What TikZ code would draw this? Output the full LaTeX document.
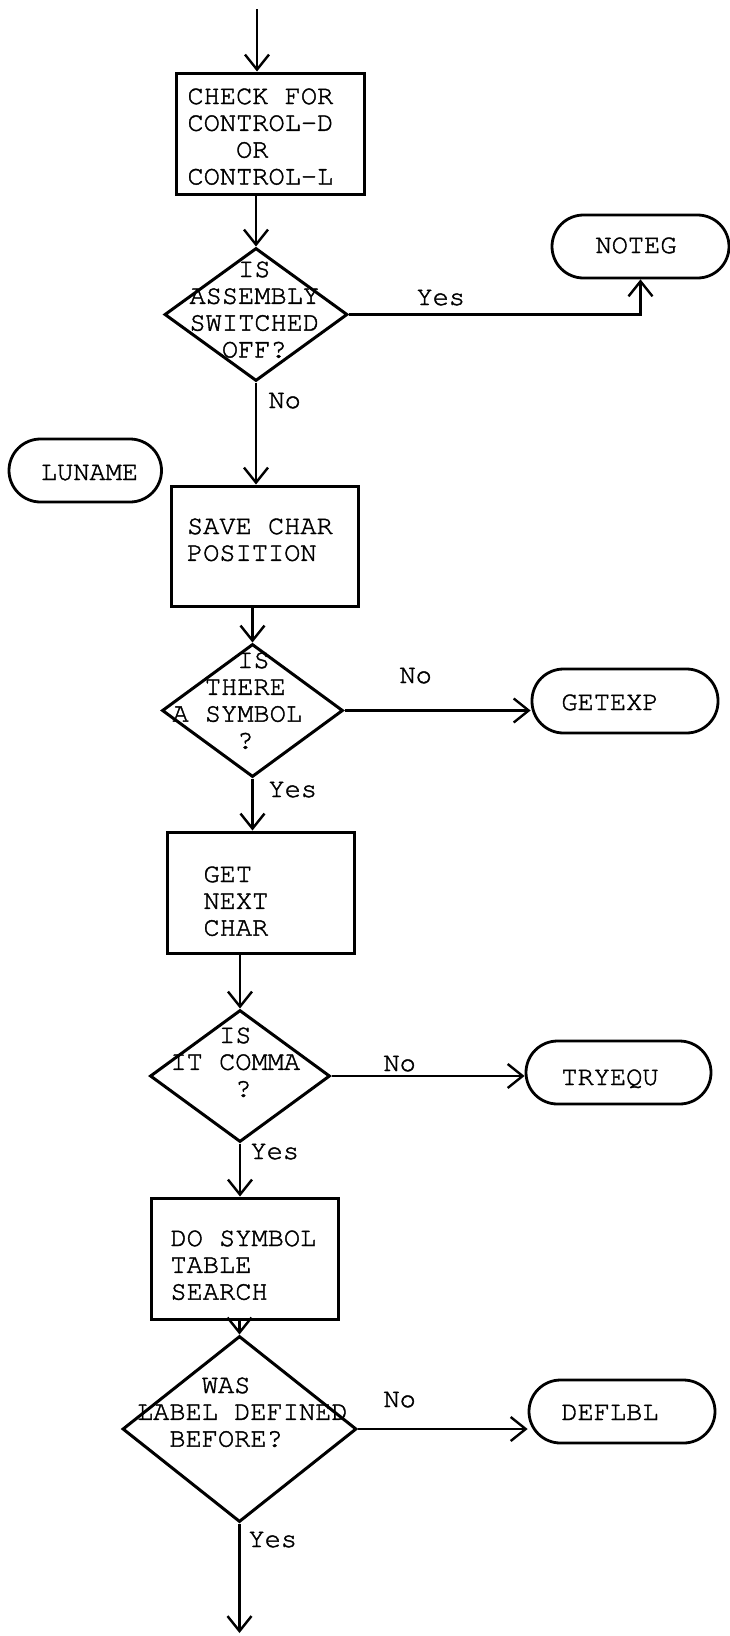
\documentclass[tikz,border=0pt]{standalone}
\usepackage{fontspec}
\setmonofont{texgyrecursor-regular.otf}[FakeBold=1.5]
\usetikzlibrary{arrows.meta,shapes.geometric}
\newlength\chw
\setlength\chw{16.2pt}
\newcommand\ind[1]{\hspace*{#1\chw}}
\begin{document}
\begin{tikzpicture}[x=1pt,y=-1pt,
  arr/.style={line width=2.7pt,-{Straight Barb[length=15pt,width=24pt,line width=2.4pt]}},
  box/.style={draw,line width=3pt,rectangle,inner sep=0pt},
  dia/.style={draw,line width=3pt,diamond,inner sep=0pt},
  term/.style={draw,line width=2.8pt,rectangle,rounded corners=31.5pt,minimum height=63pt,inner sep=0pt},
  txt/.style={font=\fontsize{27pt}{26.8pt}\selectfont\ttfamily,align=left,anchor=base west,inner sep=0pt,outer sep=0pt},
  ttxt/.style={font=\fontsize{27pt}{26.8pt}\selectfont\ttfamily,anchor=base,inner sep=0pt,outer sep=0pt},
  lbl/.style={font=\fontsize{27pt}{26.8pt}\selectfont\ttfamily,anchor=base west,inner sep=0pt,outer sep=0pt}]
\path[use as bounding box,fill=white] (0,0) rectangle (730,1636);

% shapes
\node[box,minimum width=188pt,minimum height=121pt] (b1) at (270,133.5) {};
\node[dia,minimum width=183pt,minimum height=133pt] (d1) at (256,314.5) {};
\node[term,minimum width=177pt] (noteg) at (640.5,246.5) {};
\node[term,minimum width=152.5pt] (luname) at (85.25,470.5) {};
\node[box,minimum width=187.5pt,minimum height=120pt] (b2) at (264.75,546) {};
\node[dia,minimum width=181pt,minimum height=133pt] (d2) at (252.5,710.5) {};
\node[term,minimum width=186pt,minimum height=64pt] (getexp) at (625,701) {};
\node[box,minimum width=187.5pt,minimum height=121pt] (b3) at (260.75,892.5) {};
\node[dia,minimum width=180pt,minimum height=132pt] (d3) at (240,1076) {};
\node[term,minimum width=185pt] (tryequ) at (618.5,1072.5) {};
\node[box,minimum width=187pt,minimum height=121pt] (b4) at (244.5,1258.5) {};
\node[dia,minimum width=234pt,minimum height=186pt] (d4) at (239.5,1429) {};
\node[term,minimum width=186pt] (deflbl) at (622,1411.5) {};

% texts (anchor = baseline of the last line)
\node[txt] (t1) at (187.5,184.4) {CHECK FOR\\CONTROL-D\\\ind{3}OR\\CONTROL-L};
\node[txt] (td1) at (189.5,357.4) {\ind{3}IS\\ASSEMBLY\\SWITCHED\\\ind{2}OFF?};
\node[ttxt] (tnoteg) at (636,253) {NOTEG};
\node[ttxt] (tluname) at (89.5,480) {LUNAME};
\node[txt] (t2) at (187,560.8) {SAVE CHAR\\POSITION};
\node[txt] (td2) at (172.5,748.4) {\ind{4}IS\\\ind{2}THERE\\A SYMBOL\\\ind{4}?};
\node[ttxt] (tgetexp) at (610,710) {GETEXP};
\node[txt] (t3) at (203.5,935.6) {GET\\NEXT\\CHAR};
\node[txt] (td3) at (170.5,1096.6) {\ind{3}IS\\IT COMMA\\\ind{4}?};
\node[ttxt] (ttryequ) at (610,1085) {TRYEQU};
\node[txt] (t4) at (170.5,1299.6) {DO SYMBOL\\TABLE\\SEARCH};
\node[txt] (td4) at (137,1446.6) {\ind{4}WAS\\LABEL DEFINED\\\ind{2}BEFORE?};
\node[ttxt] (tdeflbl) at (610,1420) {DEFLBL};

% labels
\node[lbl] (y1) at (416.5,305) {Yes};
\node[lbl] (n1) at (268.5,408) {No};
\node[lbl] (n2) at (399.5,683) {No};
\node[lbl] (y2) at (268.5,797) {Yes};
\node[lbl] (n3) at (383.5,1071) {No};
\node[lbl] (y3) at (250.5,1159) {Yes};
\node[lbl] (n4) at (383.5,1407) {No};
\node[lbl] (y4) at (248.5,1547) {Yes};

% connectors
\coordinate (start) at (257,9);
\coordinate (finish) at (239.5,1633);
\draw[arr] (start) -- (start |- b1.north);
\draw[arr] (b1.south -| d1.north) -- (d1.north);
\draw[arr] (d1.east) -| (noteg.south);
\draw[arr] (d1.south) -- (d1.south |- b2.north);
\draw[arr] (b2.south -| d2.north) -- (d2.north);
\draw[arr] (d2.east) -- (d2.east -| getexp.west);
\draw[arr] (d2.south) -- (d2.south |- b3.north);
\draw[arr] (b3.south -| d3.north) -- (d3.north);
\draw[arr] (d3.east) -- (d3.east -| tryequ.west);
\draw[arr] (d3.south) -- (d3.south |- b4.north);
\draw[arr] (b4.south -| d4.north) -- (d4.north);
\draw[arr] (d4.east) -- (d4.east -| deflbl.west);
\draw[arr] (d4.south) -- (finish);
\end{tikzpicture}
\end{document}
